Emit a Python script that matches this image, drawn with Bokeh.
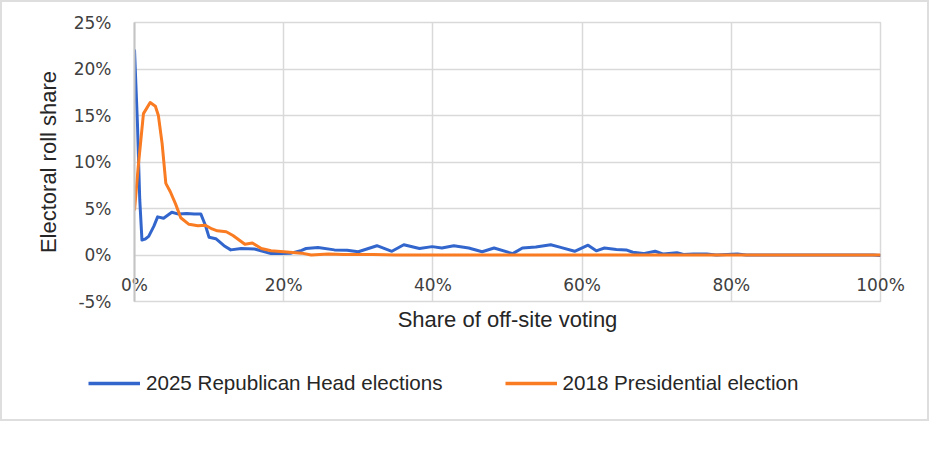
from bokeh.plotting import figure
from bokeh.layouts import column
from bokeh.models import Range1d, Legend, LegendItem, PrintfTickFormatter, FixedTicker
from bokeh.embed import file_html
from bokeh.resources import INLINE

# ---- data ----
series_names = ["2025 Republican Head elections", "2018 Presidential election"]

blue_x = [0.0, 0.4, 0.7, 1.0, 1.4, 1.9, 2.6, 3.1, 3.9, 5.0, 5.9, 7.0, 8.0, 8.9, 9.5, 10.0,
          10.9, 12.0, 12.9, 14.3, 16.1, 17.2, 18.3, 19.7, 21.0, 22.4, 23.0, 24.6, 26.8, 28.5,
          30.0, 32.5, 34.5, 36.1, 38.2, 39.9, 41.2, 42.8, 44.8, 46.6, 48.2, 50.7, 52.0, 53.8,
          55.8, 57.0, 59.0, 60.8, 61.9, 63.0, 64.6, 65.9, 66.8, 68.2, 69.8, 70.9, 72.7, 73.6,
          74.9, 76.7, 78.0, 80.8, 82.0, 99.0, 100.0]
blue_y = [22.1, 14.0, 6.0, 1.6, 1.7, 2.0, 3.1, 4.1, 3.95, 4.6, 4.4, 4.45, 4.4, 4.4, 3.2, 1.9,
          1.75, 1.0, 0.55, 0.7, 0.65, 0.4, 0.15, 0.15, 0.2, 0.5, 0.7, 0.8, 0.55, 0.5,
          0.35, 1.0, 0.4, 1.1, 0.7, 0.9, 0.75, 1.0, 0.75, 0.35, 0.75, 0.15, 0.75, 0.85,
          1.1, 0.85, 0.4, 1.05, 0.45, 0.75, 0.6, 0.55, 0.3, 0.15, 0.4, 0.1, 0.25, 0.05,
          0.1, 0.1, 0.0, 0.1, 0.0, 0.0, -0.05]

orange_x = [0.0, 0.5, 1.2, 2.1, 2.8, 3.2, 3.7, 4.2, 4.8, 5.5, 6.2, 7.3, 8.5, 9.5, 10.4, 11.1,
            12.3, 13.2, 14.8, 15.8, 17.0, 18.3, 20.0, 22.4, 23.7, 26.0, 28.0, 32.0, 35.0, 100.0]
orange_y = [4.8, 9.5, 15.2, 16.4, 16.0, 15.0, 12.0, 7.7, 6.8, 5.5, 4.0, 3.3, 3.15, 3.2, 2.8, 2.6,
            2.5, 2.1, 1.15, 1.3, 0.7, 0.45, 0.35, 0.2, 0.0, 0.1, 0.05, 0.05, 0.0, 0.0]

x_ticks = [0, 20, 40, 60, 80, 100]
y_ticks = [-5, 0, 5, 10, 15, 20, 25]

BLUE = "#3366cc"
ORANGE = "#f97b22"
GRID = "#d9d9d9"
BORDER = "2px solid #dedede"
TICK_FONT = "DejaVu Sans"
TITLE_FONT = "Liberation Sans"

# ---------------- main chart ----------------
p = figure(frame_width=742, frame_height=277,
           x_range=Range1d(0, 100), y_range=Range1d(-5, 25),
           output_backend="svg", toolbar_location=None,
           min_border_left=132, min_border_right=51,
           min_border_top=20, min_border_bottom=50)

p.background_fill_color = "white"
p.border_fill_color = "white"
p.outline_line_color = GRID
p.outline_line_width = 1.5
p.styles = {"border": BORDER, "border-bottom": "none"}

p.xgrid.ticker = FixedTicker(ticks=x_ticks)
p.ygrid.ticker = FixedTicker(ticks=y_ticks)
p.xgrid.grid_line_color = GRID
p.ygrid.grid_line_color = GRID
p.xgrid.grid_line_width = 1.5
p.ygrid.grid_line_width = 1.5

# x axis: tick labels sit between the 0% and -5% lines
xa = p.xaxis[0]
xa.ticker = FixedTicker(ticks=x_ticks)
xa.formatter = PrintfTickFormatter(format="%d%%")
xa.axis_line_color = None
xa.major_tick_line_color = None
xa.minor_tick_line_color = None
xa.major_label_standoff = -33
xa.major_label_text_font = TICK_FONT
xa.major_label_text_font_size = "17px"
xa.major_label_text_color = "#404040"
xa.axis_label = "Share of off-site voting"
xa.axis_label_standoff = 9
xa.axis_label_text_font = TITLE_FONT
xa.axis_label_text_font_size = "22px"
xa.axis_label_text_font_style = "normal"
xa.axis_label_text_color = "#262626"

# y axis
ya = p.yaxis[0]
ya.ticker = FixedTicker(ticks=y_ticks)
ya.formatter = PrintfTickFormatter(format="%d%%")
ya.axis_line_color = "#c4c4c4"
ya.axis_line_width = 2
ya.major_tick_line_color = None
ya.minor_tick_line_color = None
ya.major_label_standoff = 17
ya.major_label_text_font = TICK_FONT
ya.major_label_text_font_size = "17px"
ya.major_label_text_color = "#404040"
ya.axis_label = "Electoral roll share"
ya.axis_label_standoff = 10
ya.axis_label_text_font = TITLE_FONT
ya.axis_label_text_font_size = "22px"
ya.axis_label_text_font_style = "normal"
ya.axis_label_text_color = "#262626"

p.line(blue_x, blue_y, line_color=BLUE, line_width=3, line_join="round")
p.line(orange_x, orange_y, line_color=ORANGE, line_width=3, line_join="round")

# ---------------- legend strip ----------------
# the strip's ranges lie far outside the data, so its key renderers draw nothing in view
lp = figure(frame_width=925, frame_height=70,
            x_range=Range1d(-1000, -999), y_range=Range1d(-1000, -999),
            output_backend="svg", toolbar_location=None,
            x_axis_location=None, y_axis_location=None,
            min_border=0)
lp.min_border_left = 0
lp.min_border_right = 0
lp.min_border_top = 0
lp.min_border_bottom = 0
lp.grid.visible = False
lp.outline_line_color = None
lp.background_fill_color = "white"
lp.border_fill_color = "white"
lp.styles = {"border": BORDER, "border-top": "none"}

k1 = lp.line(blue_x, blue_y, line_color=BLUE, line_width=3.5)
k2 = lp.line(orange_x, orange_y, line_color=ORANGE, line_width=3.5)

lg = Legend(items=[LegendItem(label=series_names[0], renderers=[k1]),
                   LegendItem(label=series_names[1], renderers=[k2])],
            orientation="horizontal", location=(86, 26))
lg.label_text_font = TITLE_FONT
lg.label_text_font_size = "20.6px"
lg.label_text_color = "#262626"
lg.glyph_width = 52
lg.glyph_height = 20
lg.label_height = 20
lg.label_standoff = 6
lg.spacing = 62
lg.padding = 0
lg.margin = 0
lg.border_line_color = None
lg.background_fill_alpha = 0
lp.add_layout(lg)

page = column(p, lp, spacing=0)
open("out.html", "w").write(file_html(page, INLINE))
